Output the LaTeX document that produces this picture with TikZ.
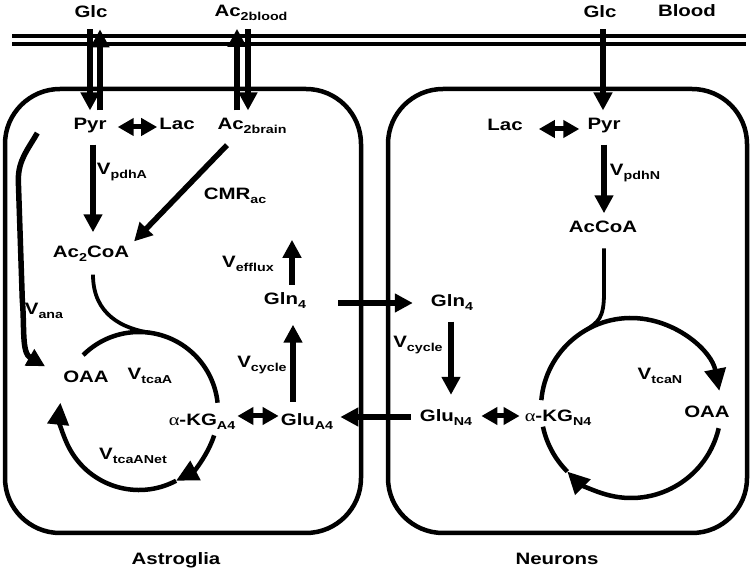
\documentclass[tikz,border=0pt]{standalone}
\usepackage{fontspec}
\setmainfont{Liberation Sans}[FakeStretch=1.24]
\newfontfamily\grkfont{Liberation Serif}[FakeStretch=1.24]
\usetikzlibrary{arrows.meta,calc}

\newcommand{\sbs}[1]{\raisebox{-3.5pt}{\fontsize{11.5}{12}\selectfont #1}}
\newcommand{\alf}{{\grkfont\mdseries α}}

\tikzset{
  lbl/.style={font=\fontsize{16.5}{18}\selectfont\bfseries, inner sep=2pt, anchor=base},
  flow/.style={line width=5.5pt, -{Triangle[length=18pt,width=18pt]}},
  dbl/.style={line width=5pt, {Triangle[length=16pt,width=17pt]}-{Triangle[length=16pt,width=17pt]}},
  cyc/.style={line width=4.5pt},
  feed/.style={line width=3.8pt},
  cycarr/.style={line width=4.5pt, -{Triangle[length=22pt,width=21pt]}},
  cell/.style={line width=4.5pt, rounded corners=55pt},
  membrane/.style={line width=3.5pt}
}

\begin{document}
\begin{tikzpicture}[x=1pt,y=1pt]

  \useasboundingbox (0,0) rectangle (752,572);

  % BLOOD
  \node[lbl] (glcA) at (91,554) {Glc};
  \node[lbl] (acblood) at (251,555) {Ac\sbs{2blood}};
  \node[lbl] (glcN) at (600,554) {Glc};
  \node[lbl] (blood) at (687,555) {Blood};

  \draw[membrane] (12,536) -- (746,536);
  \draw[membrane] (12,528) -- (746,528);

  % CELLS
  \draw[cell] (5,39) rectangle (361,483);
  \draw[cell] (388,39) rectangle (747,483);

  % ASTROGLIA
  \node[lbl] (pyrA) at (90,442) {Pyr};
  \node[lbl] (lacA) at (177,442) {Lac};
  \node[lbl] (acbrain) at (252,442) {Ac\sbs{2brain}};
  \node[lbl] (vpdhA) at (122,397) {V\sbs{pdhA}};
  \node[lbl] (cmr) at (235,372) {CMR\sbs{ac}};
  \node[lbl] (ac2coa) at (91,314) {Ac\sbs{2}CoA};
  \node[lbl] (vefflux) at (248,304) {V\sbs{efflux}};
  \node[lbl] (glnA) at (285,267) {Gln\sbs{4}};
  \node[lbl] (vana) at (44,257) {V\sbs{ana}};
  \node[lbl] (oaaA) at (86,189) {OAA};
  \node[lbl] (vtcaA) at (150,192) {V\sbs{tcaA}};
  \node[lbl] (vcycA) at (262,204) {V\sbs{cycle}};
  \node[lbl] (kgA) at (202,146) {\alf-KG\sbs{A4}};
  \node[lbl] (gluA) at (307,146) {Glu\sbs{A4}};
  \node[lbl] (vnet) at (133,112) {V\sbs{tcaANet}};
  \node[lbl] (astro) at (176,7) {Astroglia};

  % NEURONS
  \node[lbl] (lacN) at (505,441) {Lac};
  \node[lbl] (pyrN) at (604,442) {Pyr};
  \node[lbl] (vpdhN) at (635,396) {V\sbs{pdhN}};
  \node[lbl] (accoaN) at (603,339) {AcCoA};
  \node[lbl] (glnN) at (452,265) {Gln\sbs{4}};
  \node[lbl] (vcycN) at (418,224) {V\sbs{cycle}};
  \node[lbl] (vtcaN) at (660,192) {V\sbs{tcaN}};
  \node[lbl] (gluN) at (446,150) {Glu\sbs{N4}};
  \node[lbl] (kgN) at (558,150) {\alf-KG\sbs{N4}};
  \node[lbl] (oaaN) at (707,154) {OAA};
  \node[lbl] (neur) at (557,7) {Neurons};

  % TRANSPORT ACROSS THE MEMBRANE
  \draw[flow, shorten <=9pt, shorten >=6pt] ([xshift=-1pt]glcA.south) -- ([xshift=-1pt]glcA.south |- pyrA.north);
  \draw[flow, shorten <=6pt, shorten >=9pt] ([xshift=9pt]glcA.south |- pyrA.north) -- ([xshift=9pt]glcA.south);
  \draw[flow, shorten <=6pt, shorten >=6pt] ([xshift=-14pt]acblood.south |- acbrain.north) -- ([xshift=-14pt]acblood.south);
  \draw[flow, shorten <=6pt, shorten >=6pt] ([xshift=-3pt]acblood.south) -- ([xshift=-3pt]acblood.south |- acbrain.north);
  \draw[flow, shorten <=9pt, shorten >=6pt] ([xshift=3pt]glcN.south) -- ([xshift=3pt]glcN.south |- pyrN.north);

  % ARROWS ASTROGLIA
  \draw[dbl, shorten <=9pt] ([yshift=3pt]pyrA.base east) -- ([yshift=3pt]pyrA.base east -| lacA.west);
  \draw[flow, shorten <=9pt, shorten >=12pt] ([xshift=3pt]pyrA.south) -- ([xshift=3pt]pyrA.south |- ac2coa.north);
  \draw[flow, shorten <=13pt, shorten >=4pt] ([xshift=-16pt]acbrain.south) -- (ac2coa.north east);
  \draw[flow] ([shift={(-34pt,-7pt)}]pyrA.west) to[out=240,in=90] ++(-19,-47) -- ++(4,-120)
    to[out=-85,in=150] ([shift={(-16pt,11pt)}]oaaA.west);
  \draw[dbl] ([yshift=10pt]kgA.base east) -- ([yshift=10pt]kgA.base east -| gluA.west);
  \draw[flow, shorten <=10pt, shorten >=14pt] ([xshift=-14pt]gluA.north) -- ([xshift=-14pt]gluA.north |- glnA.south);
  \coordinate (efflux) at ($(glnA.north)+(7pt,51pt)$);
  \draw[flow, shorten <=6pt] ([xshift=7pt]glnA.north) -- (efflux);

  % TCA ASTROGLIA
  \coordinate (cA) at (139,161);
  \draw[cyc] ($(cA)+(135:79)$) arc[start angle=135, end angle=6, radius=79];
  \draw[cycarr] ($(cA)+(-18:79)$) arc[start angle=-18, end angle=-62, radius=79];
  \draw[cycarr] ($(cA)+(-62:79)$) arc[start angle=-62, end angle=-186, radius=79];
  \draw[feed] ([xshift=2pt,yshift=-11pt]ac2coa.south) .. controls +(0,-40) and +(-30,4) .. ($(cA)+(80:79)$);

  % EXCHANGE BETWEEN CELLS
  \draw[flow, shorten <=30pt, shorten >=16pt] ([yshift=2pt]glnA.base east) -- ([yshift=2pt]glnA.base east -| glnN.west);
  \draw[flow, shorten <=7pt, shorten >=5pt] ([yshift=5pt]gluN.base west) -- ([yshift=5pt]gluN.base west -| gluA.east);

  % ARROWS NEURONS
  \draw[dbl, shorten <=14pt, shorten >=6pt] ([yshift=2pt]lacN.base east) -- ([yshift=2pt]lacN.base east -| pyrN.west);
  \draw[flow, shorten <=9pt, shorten >=6pt] (pyrN.south) -- (pyrN.south |- accoaN.north);
  \draw[flow, shorten <=9pt, shorten >=13pt] ([xshift=-1pt]glnN.south) -- ([xshift=-1pt]glnN.south |- gluN.north);
  \draw[dbl, shorten <=7pt, shorten >=3pt] ([yshift=6pt]gluN.base east) -- ([yshift=6pt]gluN.base east -| kgN.west);

  % TCA NEURONS
  \coordinate (cN) at (631,164);
  \draw[cycarr] ($(cN)+(175:90)$) arc[start angle=175, end angle=11, radius=90];
  \draw[cycarr] ($(cN)+(-13:90)$) arc[start angle=-13, end angle=-135, radius=90];
  \draw[cyc] ($(cN)+(-135:90)$) arc[start angle=-135, end angle=-168, radius=90];
  \draw[feed] ([xshift=1pt,yshift=-13pt]accoaN.south) -- ++(0,-45) .. controls +(0,-25) and +(12,8) .. ($(cN)+(120:90)$);

\end{tikzpicture}
\end{document}
